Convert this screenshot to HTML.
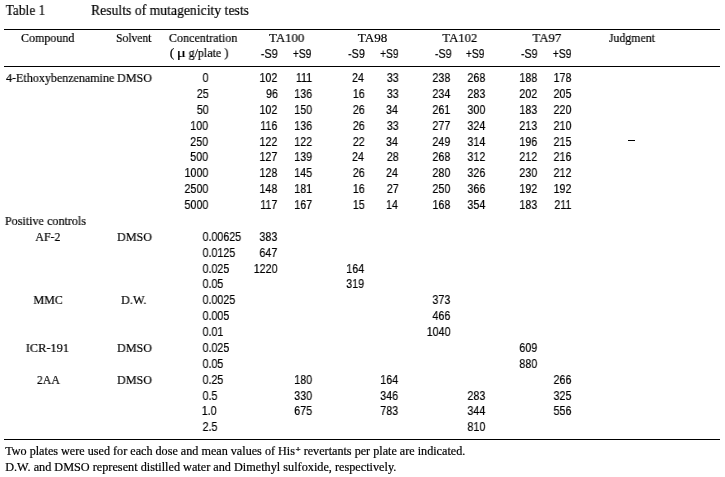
<!DOCTYPE html><html><head><meta charset="utf-8"><style>
*{margin:0;padding:0}html,body{width:725px;height:477px;background:#fff;overflow:hidden}
body{position:relative;color:#000;font-family:"Liberation Serif",serif}
.t{will-change:transform;position:absolute;white-space:nowrap;line-height:normal;left:0;transform-origin:0 0}
.s{font-family:"Liberation Sans",sans-serif}
.ln{position:absolute;height:1px;background:#000}
sup{font-size:9px;font-weight:bold;vertical-align:0;position:relative;top:-3px;margin-left:0.5px}
.t{-webkit-text-stroke:0.2px #000}
</style></head><body>
<div class="ln" style="top:29px;left:4px;width:716px"></div>
<div class="ln" style="top:66px;left:4px;width:716px"></div>
<div class="ln" style="top:439px;left:4px;width:716px"></div>
<div class="ln" style="top:140px;left:628px;width:7px;height:1px"></div>
<div class="t" style="top:2px;font-size:15px;transform:translateX(5.70px) scaleX(0.8932)">Table 1</div>
<div class="t" style="top:2px;font-size:15px;transform:translateX(91.00px) scaleX(0.9133)">Results of mutagenicity tests</div>
<div class="t" style="top:30px;font-size:13px;transform:translateX(21.00px) scaleX(0.9241)">Compound</div>
<div class="t" style="top:30px;font-size:13px;transform:translateX(116.10px) scaleX(0.8900)">Solvent</div>
<div class="t" style="top:30px;font-size:13px;transform:translateX(168.90px) scaleX(0.9284)">Concentration</div>
<div class="t" style="top:30px;font-size:13px;transform:translateX(269.00px) scaleX(0.9861)">TA100</div>
<div class="t" style="top:30px;font-size:13px;transform:translateX(357.80px) scaleX(1.0069)">TA98</div>
<div class="t" style="top:30px;font-size:13px;transform:translateX(442.30px) scaleX(0.9778)">TA102</div>
<div class="t" style="top:30px;font-size:13px;transform:translateX(532.40px) scaleX(0.9897)">TA97</div>
<div class="t" style="top:30px;font-size:13px;transform:translateX(608.90px) scaleX(0.9098)">Judgment</div>
<div class="t" style="top:45px;font-size:13px;transform:translateX(169.80px) scaleX(1.0500)">(</div>
<div class="t" style="top:45px;font-size:13px;transform:translateX(176.70px) scaleX(1.3000)">μ</div>
<div class="t" style="top:45px;font-size:13px;transform:translateX(188.60px) scaleX(0.9257)">g/plate</div>
<div class="t" style="top:45px;font-size:13px;transform:translateX(224.40px) scaleX(0.9500)">)</div>
<div class="t s" style="top:46px;font-size:13px;transform:translateX(260.80px) scaleX(0.8350)">-S9</div>
<div class="t s" style="top:46px;font-size:13px;transform:translateX(292.90px) scaleX(0.7870)">+S9</div>
<div class="t s" style="top:46px;font-size:13px;transform:translateX(348.10px) scaleX(0.8300)">-S9</div>
<div class="t s" style="top:46px;font-size:13px;transform:translateX(380.20px) scaleX(0.7826)">+S9</div>
<div class="t s" style="top:46px;font-size:13px;transform:translateX(434.90px) scaleX(0.8250)">-S9</div>
<div class="t s" style="top:46px;font-size:13px;transform:translateX(465.90px) scaleX(0.7913)">+S9</div>
<div class="t s" style="top:46px;font-size:13px;transform:translateX(521.00px) scaleX(0.8150)">-S9</div>
<div class="t s" style="top:46px;font-size:13px;transform:translateX(552.80px) scaleX(0.7957)">+S9</div>
<div class="t" style="top:70px;font-size:13px;transform:translateX(6.00px) scaleX(0.9256)">4-Ethoxybenzenamine</div>
<div class="t" style="top:70px;font-size:13px;transform:translateX(117.00px) scaleX(0.9289)">DMSO</div>
<div class="t s" style="top:70px;font-size:13px;transform:translateX(202.56px) scaleX(0.8200)">0</div>
<div class="t s" style="top:70px;font-size:13px;transform:translateX(259.46px) scaleX(0.8200)">102</div>
<div class="t s" style="top:70px;font-size:13px;transform:translateX(295.90px) scaleX(0.8200)">111</div>
<div class="t s" style="top:70px;font-size:13px;transform:translateX(352.00px) scaleX(0.8200)">24</div>
<div class="t s" style="top:70px;font-size:13px;transform:translateX(386.82px) scaleX(0.8200)">33</div>
<div class="t s" style="top:70px;font-size:13px;transform:translateX(432.46px) scaleX(0.8200)">238</div>
<div class="t s" style="top:70px;font-size:13px;transform:translateX(467.46px) scaleX(0.8200)">268</div>
<div class="t s" style="top:70px;font-size:13px;transform:translateX(519.36px) scaleX(0.8200)">188</div>
<div class="t s" style="top:70px;font-size:13px;transform:translateX(553.56px) scaleX(0.8200)">178</div>
<div class="t s" style="top:86px;font-size:13px;transform:translateX(196.82px) scaleX(0.8200)">25</div>
<div class="t s" style="top:86px;font-size:13px;transform:translateX(266.02px) scaleX(0.8200)">96</div>
<div class="t s" style="top:86px;font-size:13px;transform:translateX(294.26px) scaleX(0.8200)">136</div>
<div class="t s" style="top:86px;font-size:13px;transform:translateX(352.82px) scaleX(0.8200)">16</div>
<div class="t s" style="top:86px;font-size:13px;transform:translateX(386.82px) scaleX(0.8200)">33</div>
<div class="t s" style="top:86px;font-size:13px;transform:translateX(432.46px) scaleX(0.8200)">234</div>
<div class="t s" style="top:86px;font-size:13px;transform:translateX(467.46px) scaleX(0.8200)">283</div>
<div class="t s" style="top:86px;font-size:13px;transform:translateX(519.36px) scaleX(0.8200)">202</div>
<div class="t s" style="top:86px;font-size:13px;transform:translateX(553.56px) scaleX(0.8200)">205</div>
<div class="t s" style="top:102px;font-size:13px;transform:translateX(196.82px) scaleX(0.8200)">50</div>
<div class="t s" style="top:102px;font-size:13px;transform:translateX(259.46px) scaleX(0.8200)">102</div>
<div class="t s" style="top:102px;font-size:13px;transform:translateX(294.26px) scaleX(0.8200)">150</div>
<div class="t s" style="top:102px;font-size:13px;transform:translateX(352.82px) scaleX(0.8200)">26</div>
<div class="t s" style="top:102px;font-size:13px;transform:translateX(386.00px) scaleX(0.8200)">34</div>
<div class="t s" style="top:102px;font-size:13px;transform:translateX(432.46px) scaleX(0.8200)">261</div>
<div class="t s" style="top:102px;font-size:13px;transform:translateX(467.46px) scaleX(0.8200)">300</div>
<div class="t s" style="top:102px;font-size:13px;transform:translateX(519.36px) scaleX(0.8200)">183</div>
<div class="t s" style="top:102px;font-size:13px;transform:translateX(553.56px) scaleX(0.8200)">220</div>
<div class="t s" style="top:118px;font-size:13px;transform:translateX(190.26px) scaleX(0.8200)">100</div>
<div class="t s" style="top:118px;font-size:13px;transform:translateX(260.28px) scaleX(0.8200)">116</div>
<div class="t s" style="top:118px;font-size:13px;transform:translateX(294.26px) scaleX(0.8200)">136</div>
<div class="t s" style="top:118px;font-size:13px;transform:translateX(352.82px) scaleX(0.8200)">26</div>
<div class="t s" style="top:118px;font-size:13px;transform:translateX(386.82px) scaleX(0.8200)">33</div>
<div class="t s" style="top:118px;font-size:13px;transform:translateX(432.46px) scaleX(0.8200)">277</div>
<div class="t s" style="top:118px;font-size:13px;transform:translateX(467.46px) scaleX(0.8200)">324</div>
<div class="t s" style="top:118px;font-size:13px;transform:translateX(519.36px) scaleX(0.8200)">213</div>
<div class="t s" style="top:118px;font-size:13px;transform:translateX(553.56px) scaleX(0.8200)">210</div>
<div class="t s" style="top:134px;font-size:13px;transform:translateX(190.26px) scaleX(0.8200)">250</div>
<div class="t s" style="top:134px;font-size:13px;transform:translateX(259.46px) scaleX(0.8200)">122</div>
<div class="t s" style="top:134px;font-size:13px;transform:translateX(294.26px) scaleX(0.8200)">122</div>
<div class="t s" style="top:134px;font-size:13px;transform:translateX(352.82px) scaleX(0.8200)">22</div>
<div class="t s" style="top:134px;font-size:13px;transform:translateX(386.00px) scaleX(0.8200)">34</div>
<div class="t s" style="top:134px;font-size:13px;transform:translateX(432.46px) scaleX(0.8200)">249</div>
<div class="t s" style="top:134px;font-size:13px;transform:translateX(467.46px) scaleX(0.8200)">314</div>
<div class="t s" style="top:134px;font-size:13px;transform:translateX(519.36px) scaleX(0.8200)">196</div>
<div class="t s" style="top:134px;font-size:13px;transform:translateX(553.56px) scaleX(0.8200)">215</div>
<div class="t s" style="top:149px;font-size:13px;transform:translateX(190.26px) scaleX(0.8200)">500</div>
<div class="t s" style="top:149px;font-size:13px;transform:translateX(259.46px) scaleX(0.8200)">127</div>
<div class="t s" style="top:149px;font-size:13px;transform:translateX(294.26px) scaleX(0.8200)">139</div>
<div class="t s" style="top:149px;font-size:13px;transform:translateX(352.00px) scaleX(0.8200)">24</div>
<div class="t s" style="top:149px;font-size:13px;transform:translateX(386.82px) scaleX(0.8200)">28</div>
<div class="t s" style="top:149px;font-size:13px;transform:translateX(432.46px) scaleX(0.8200)">268</div>
<div class="t s" style="top:149px;font-size:13px;transform:translateX(467.46px) scaleX(0.8200)">312</div>
<div class="t s" style="top:149px;font-size:13px;transform:translateX(519.36px) scaleX(0.8200)">212</div>
<div class="t s" style="top:149px;font-size:13px;transform:translateX(553.56px) scaleX(0.8200)">216</div>
<div class="t s" style="top:165px;font-size:13px;transform:translateX(184.52px) scaleX(0.8200)">1000</div>
<div class="t s" style="top:165px;font-size:13px;transform:translateX(259.46px) scaleX(0.8200)">128</div>
<div class="t s" style="top:165px;font-size:13px;transform:translateX(294.26px) scaleX(0.8200)">145</div>
<div class="t s" style="top:165px;font-size:13px;transform:translateX(352.82px) scaleX(0.8200)">26</div>
<div class="t s" style="top:165px;font-size:13px;transform:translateX(386.00px) scaleX(0.8200)">24</div>
<div class="t s" style="top:165px;font-size:13px;transform:translateX(432.46px) scaleX(0.8200)">280</div>
<div class="t s" style="top:165px;font-size:13px;transform:translateX(467.46px) scaleX(0.8200)">326</div>
<div class="t s" style="top:165px;font-size:13px;transform:translateX(519.36px) scaleX(0.8200)">230</div>
<div class="t s" style="top:165px;font-size:13px;transform:translateX(553.56px) scaleX(0.8200)">212</div>
<div class="t s" style="top:181px;font-size:13px;transform:translateX(184.52px) scaleX(0.8200)">2500</div>
<div class="t s" style="top:181px;font-size:13px;transform:translateX(259.46px) scaleX(0.8200)">148</div>
<div class="t s" style="top:181px;font-size:13px;transform:translateX(294.26px) scaleX(0.8200)">181</div>
<div class="t s" style="top:181px;font-size:13px;transform:translateX(352.82px) scaleX(0.8200)">16</div>
<div class="t s" style="top:181px;font-size:13px;transform:translateX(386.82px) scaleX(0.8200)">27</div>
<div class="t s" style="top:181px;font-size:13px;transform:translateX(432.46px) scaleX(0.8200)">250</div>
<div class="t s" style="top:181px;font-size:13px;transform:translateX(467.46px) scaleX(0.8200)">366</div>
<div class="t s" style="top:181px;font-size:13px;transform:translateX(519.36px) scaleX(0.8200)">192</div>
<div class="t s" style="top:181px;font-size:13px;transform:translateX(553.56px) scaleX(0.8200)">192</div>
<div class="t s" style="top:197px;font-size:13px;transform:translateX(184.52px) scaleX(0.8200)">5000</div>
<div class="t s" style="top:197px;font-size:13px;transform:translateX(260.28px) scaleX(0.8200)">117</div>
<div class="t s" style="top:197px;font-size:13px;transform:translateX(294.26px) scaleX(0.8200)">167</div>
<div class="t s" style="top:197px;font-size:13px;transform:translateX(352.82px) scaleX(0.8200)">15</div>
<div class="t s" style="top:197px;font-size:13px;transform:translateX(386.00px) scaleX(0.8200)">14</div>
<div class="t s" style="top:197px;font-size:13px;transform:translateX(432.46px) scaleX(0.8200)">168</div>
<div class="t s" style="top:197px;font-size:13px;transform:translateX(467.46px) scaleX(0.8200)">354</div>
<div class="t s" style="top:197px;font-size:13px;transform:translateX(519.36px) scaleX(0.8200)">183</div>
<div class="t s" style="top:197px;font-size:13px;transform:translateX(554.38px) scaleX(0.8200)">211</div>
<div class="t" style="top:213px;font-size:13px;transform:translateX(4.90px) scaleX(0.9322)">Positive controls</div>
<div class="t" style="top:229px;font-size:13px;transform:translateX(35.30px) scaleX(0.9148)">AF-2</div>
<div class="t" style="top:229px;font-size:13px;transform:translateX(117.00px) scaleX(0.9289)">DMSO</div>
<div class="t" style="top:292px;font-size:13px;transform:translateX(33.40px) scaleX(0.9290)">MMC</div>
<div class="t" style="top:292px;font-size:13px;transform:translateX(121.00px) scaleX(0.9407)">D.W.</div>
<div class="t" style="top:340px;font-size:13px;transform:translateX(25.80px) scaleX(0.9489)">ICR-191</div>
<div class="t" style="top:340px;font-size:13px;transform:translateX(117.00px) scaleX(0.9289)">DMSO</div>
<div class="t" style="top:372px;font-size:13px;transform:translateX(36.90px) scaleX(0.9040)">2AA</div>
<div class="t" style="top:372px;font-size:13px;transform:translateX(117.00px) scaleX(0.9289)">DMSO</div>
<div class="t s" style="top:229px;font-size:13px;transform:translateX(202.60px) scaleX(0.8200)">0.00625</div>
<div class="t s" style="top:229px;font-size:13px;transform:translateX(259.46px) scaleX(0.8200)">383</div>
<div class="t s" style="top:245px;font-size:13px;transform:translateX(202.60px) scaleX(0.8200)">0.0125</div>
<div class="t s" style="top:245px;font-size:13px;transform:translateX(259.46px) scaleX(0.8200)">647</div>
<div class="t s" style="top:261px;font-size:13px;transform:translateX(202.60px) scaleX(0.8200)">0.025</div>
<div class="t s" style="top:261px;font-size:13px;transform:translateX(253.72px) scaleX(0.8200)">1220</div>
<div class="t s" style="top:261px;font-size:13px;transform:translateX(346.26px) scaleX(0.8200)">164</div>
<div class="t s" style="top:276px;font-size:13px;transform:translateX(202.60px) scaleX(0.8200)">0.05</div>
<div class="t s" style="top:276px;font-size:13px;transform:translateX(346.26px) scaleX(0.8200)">319</div>
<div class="t s" style="top:292px;font-size:13px;transform:translateX(202.60px) scaleX(0.8200)">0.0025</div>
<div class="t s" style="top:292px;font-size:13px;transform:translateX(432.46px) scaleX(0.8200)">373</div>
<div class="t s" style="top:308px;font-size:13px;transform:translateX(202.60px) scaleX(0.8200)">0.005</div>
<div class="t s" style="top:308px;font-size:13px;transform:translateX(432.46px) scaleX(0.8200)">466</div>
<div class="t s" style="top:324px;font-size:13px;transform:translateX(202.60px) scaleX(0.8200)">0.01</div>
<div class="t s" style="top:324px;font-size:13px;transform:translateX(426.72px) scaleX(0.8200)">1040</div>
<div class="t s" style="top:340px;font-size:13px;transform:translateX(202.60px) scaleX(0.8200)">0.025</div>
<div class="t s" style="top:340px;font-size:13px;transform:translateX(519.36px) scaleX(0.8200)">609</div>
<div class="t s" style="top:356px;font-size:13px;transform:translateX(202.60px) scaleX(0.8200)">0.05</div>
<div class="t s" style="top:356px;font-size:13px;transform:translateX(519.36px) scaleX(0.8200)">880</div>
<div class="t s" style="top:372px;font-size:13px;transform:translateX(202.60px) scaleX(0.8200)">0.25</div>
<div class="t s" style="top:372px;font-size:13px;transform:translateX(294.26px) scaleX(0.8200)">180</div>
<div class="t s" style="top:372px;font-size:13px;transform:translateX(380.26px) scaleX(0.8200)">164</div>
<div class="t s" style="top:372px;font-size:13px;transform:translateX(553.56px) scaleX(0.8200)">266</div>
<div class="t s" style="top:388px;font-size:13px;transform:translateX(202.60px) scaleX(0.8200)">0.5</div>
<div class="t s" style="top:388px;font-size:13px;transform:translateX(294.26px) scaleX(0.8200)">330</div>
<div class="t s" style="top:388px;font-size:13px;transform:translateX(380.26px) scaleX(0.8200)">346</div>
<div class="t s" style="top:388px;font-size:13px;transform:translateX(467.46px) scaleX(0.8200)">283</div>
<div class="t s" style="top:388px;font-size:13px;transform:translateX(553.56px) scaleX(0.8200)">325</div>
<div class="t s" style="top:403px;font-size:13px;transform:translateX(201.78px) scaleX(0.8200)">1.0</div>
<div class="t s" style="top:403px;font-size:13px;transform:translateX(294.26px) scaleX(0.8200)">675</div>
<div class="t s" style="top:403px;font-size:13px;transform:translateX(380.26px) scaleX(0.8200)">783</div>
<div class="t s" style="top:403px;font-size:13px;transform:translateX(467.46px) scaleX(0.8200)">344</div>
<div class="t s" style="top:403px;font-size:13px;transform:translateX(553.56px) scaleX(0.8200)">556</div>
<div class="t s" style="top:419px;font-size:13px;transform:translateX(202.60px) scaleX(0.8200)">2.5</div>
<div class="t s" style="top:419px;font-size:13px;transform:translateX(467.46px) scaleX(0.8200)">810</div>
<div class="t" style="top:444px;font-size:12px;transform:translateX(5.20px) scaleX(1.0128)">Two plates were used for each dose and mean values of His<sup>+</sup> revertants per plate are indicated.</div>
<div class="t" style="top:460px;font-size:12px;transform:translateX(5.20px) scaleX(1.0193)">D.W. and DMSO represent distilled water and Dimethyl sulfoxide, respectively.</div>
</body></html>
